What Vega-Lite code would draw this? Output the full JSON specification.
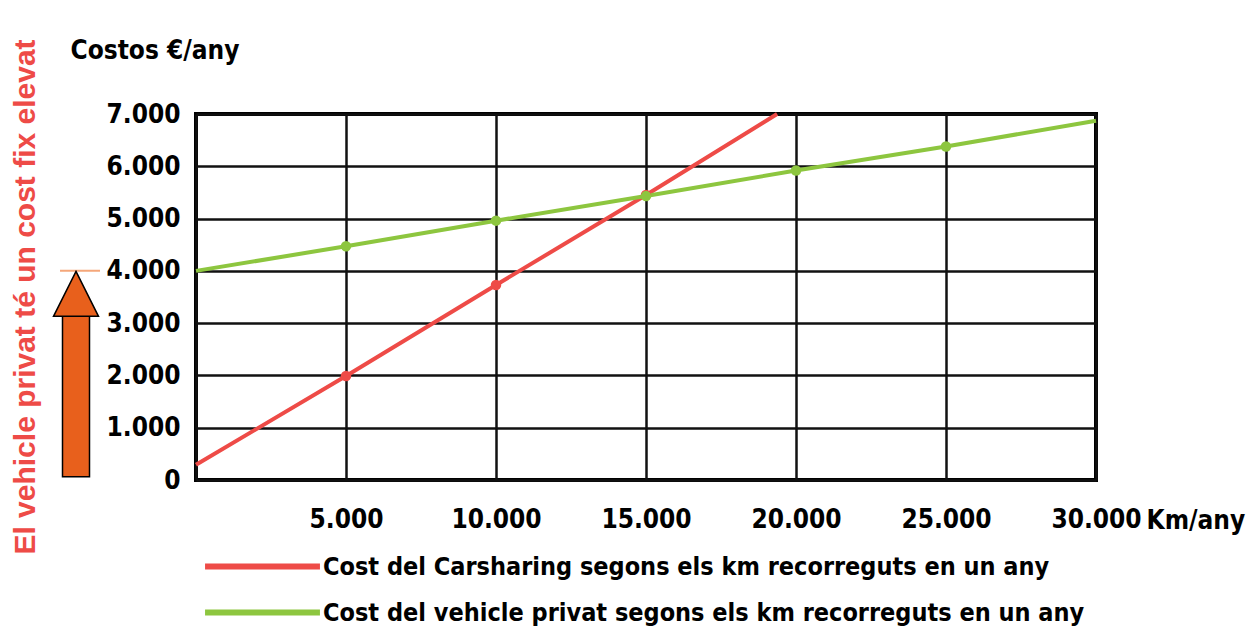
{
  "$schema": "https://vega.github.io/schema/vega-lite/v6.json",
  "width": 900,
  "height": 366,
  "autosize": "none",
  "padding": {"left": 196, "top": 114, "right": 158, "bottom": 151},
  "background": "white",
  "title": {
    "text": "El vehicle privat té un cost fix elevat",
    "orient": "left",
    "anchor": "middle",
    "color": "#EE4B47",
    "font": "Liberation Sans",
    "fontSize": 30,
    "fontWeight": "bold",
    "offset": 10
  },
  "config": {
    "view": {"stroke": "black", "strokeWidth": 4},
    "axis": {
      "labelFont": "DejaVu Sans Condensed, Liberation Sans, sans-serif",
      "labelFontWeight": "bold",
      "labelColor": "black",
      "titleFont": "DejaVu Sans Condensed, Liberation Sans, sans-serif",
      "titleFontWeight": "bold",
      "titleColor": "black",
      "ticks": false,
      "domain": false,
      "grid": true,
      "gridColor": "#111",
      "gridWidth": 2.5,
      "gridOpacity": 1,
      "labelFlush": false
    },
    "legend": {
      "labelFont": "DejaVu Sans Condensed, Liberation Sans, sans-serif",
      "labelFontWeight": "bold",
      "labelColor": "black",
      "labelFontSize": 25,
      "labelLimit": 1000
    }
  },
  "datasets": {
    "series": [
      {"km": 0, "cost": 290, "serie": "Cost del Carsharing segons els km recorreguts en un any", "punt": false},
      {"km": 5000, "cost": 1990, "serie": "Cost del Carsharing segons els km recorreguts en un any", "punt": true},
      {"km": 10000, "cost": 3730, "serie": "Cost del Carsharing segons els km recorreguts en un any", "punt": true},
      {"km": 15000, "cost": 5450, "serie": "Cost del Carsharing segons els km recorreguts en un any", "punt": true},
      {"km": 19370, "cost": 7000, "serie": "Cost del Carsharing segons els km recorreguts en un any", "punt": false},
      {"km": 0, "cost": 4000, "serie": "Cost del vehicle privat segons els km recorreguts en un any", "punt": false},
      {"km": 5000, "cost": 4470, "serie": "Cost del vehicle privat segons els km recorreguts en un any", "punt": true},
      {"km": 10000, "cost": 4960, "serie": "Cost del vehicle privat segons els km recorreguts en un any", "punt": true},
      {"km": 15000, "cost": 5430, "serie": "Cost del vehicle privat segons els km recorreguts en un any", "punt": true},
      {"km": 20000, "cost": 5920, "serie": "Cost del vehicle privat segons els km recorreguts en un any", "punt": true},
      {"km": 25000, "cost": 6380, "serie": "Cost del vehicle privat segons els km recorreguts en un any", "punt": true},
      {"km": 30000, "cost": 6870, "serie": "Cost del vehicle privat segons els km recorreguts en un any", "punt": false}
    ],
    "arrow": [
      {"x0": -4450, "x1": -3550, "y0": 60, "y1": 3130, "xc": -4000, "tip": 3560, "lx0": -4533, "lx1": -3200, "ly": 4000}
    ]
  },
  "layer": [
    {
      "data": {"name": "arrow"},
      "mark": {"type": "rule", "color": "#F5A77A", "strokeWidth": 2},
      "encoding": {
        "x": {"field": "lx0", "type": "quantitative", "scale": {"domain": [0, 30000]}},
        "x2": {"field": "lx1"},
        "y": {"field": "ly", "type": "quantitative", "scale": {"domain": [0, 7000]}}
      }
    },
    {
      "data": {"name": "arrow"},
      "mark": {"type": "bar", "color": "#E8601C", "stroke": "black", "strokeWidth": 1.5},
      "encoding": {
        "x": {"field": "x0", "type": "quantitative"},
        "x2": {"field": "x1"},
        "y": {"field": "y0", "type": "quantitative"},
        "y2": {"field": "y1"}
      }
    },
    {
      "data": {"name": "arrow"},
      "mark": {"type": "point", "shape": "M0,-1L1,1L-1,1Z", "filled": true, "fill": "#E8601C", "stroke": "black", "strokeWidth": 1.5, "size": 2025, "opacity": 1},
      "encoding": {
        "x": {"field": "xc", "type": "quantitative"},
        "y": {"field": "tip", "type": "quantitative"}
      }
    },
    {
      "data": {"name": "series"},
      "mark": {"type": "line", "strokeWidth": 4},
      "encoding": {
        "x": {
          "field": "km", "type": "quantitative",
          "scale": {"domain": [0, 30000], "nice": false},
          "axis": {
            "values": [0, 5000, 10000, 15000, 20000, 25000, 30000],
            "labelExpr": "datum.value == 0 ? '' : replace(format(datum.value, ','), ',', '.')",
            "labelFontSize": 26,
            "labelPadding": 26,
            "title": "Km/any",
            "titleFontSize": 26,
            "titleAlign": "left",
            "titleBaseline": "middle",
            "titleAnchor": "start",
            "titleX": 950,
            "titleY": 40
          }
        },
        "y": {
          "field": "cost", "type": "quantitative",
          "scale": {"domain": [0, 7000], "nice": false},
          "axis": {
            "values": [0, 1000, 2000, 3000, 4000, 5000, 6000, 7000],
            "labelExpr": "replace(format(datum.value, ','), ',', '.')",
            "labelFontSize": 26,
            "labelPadding": 16,
            "title": "Costos €/any",
            "titleFontSize": 26,
            "titleAngle": 0,
            "titleAlign": "left",
            "titleBaseline": "middle",
            "titleX": -126,
            "titleY": -64
          }
        },
        "color": {
          "field": "serie", "type": "nominal",
          "scale": {
            "domain": ["Cost del Carsharing segons els km recorreguts en un any", "Cost del vehicle privat segons els km recorreguts en un any"],
            "range": ["#EE4B47", "#8DC63F"]
          },
          "legend": {
            "title": null,
            "orient": "none",
            "legendX": 2,
            "legendY": 440,
            "symbolType": "M-10,0H10",
            "symbolSize": 132,
            "symbolStrokeWidth": 6,
            "symbolOffset": 52,
            "labelOffset": 48,
            "rowPadding": 20
          }
        }
      }
    },
    {
      "data": {"name": "series"},
      "transform": [{"filter": "datum.punt"}],
      "mark": {"type": "point", "filled": true, "size": 110, "opacity": 1},
      "encoding": {
        "x": {"field": "km", "type": "quantitative"},
        "y": {"field": "cost", "type": "quantitative"},
        "color": {"field": "serie", "type": "nominal", "scale": {"range": ["#D93A33", "#8CB83A"]}, "legend": null}
      }
    }
  ]
}
